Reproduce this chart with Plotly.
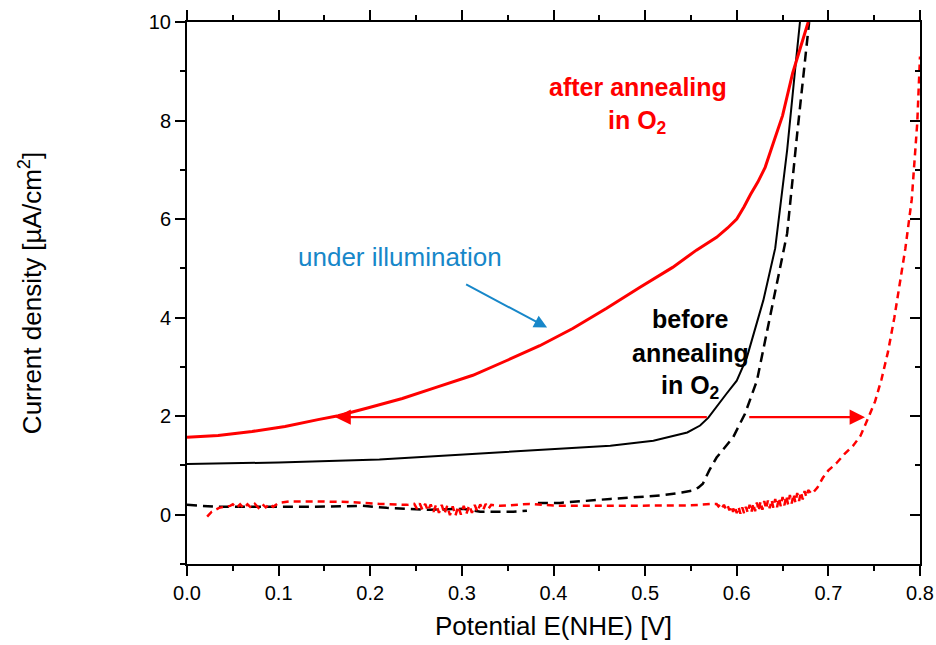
import plotly.graph_objects as go

# ---------------- data ----------------
# after annealing in O2, under illumination (red solid)
red_light_x = [0.000, 0.034, 0.071, 0.107, 0.143, 0.165, 0.198, 0.235, 0.271, 0.312, 0.349,
               0.385, 0.421, 0.458, 0.494, 0.530, 0.556, 0.578, 0.590, 0.600, 0.608, 0.615,
               0.623, 0.631, 0.640, 0.650, 0.661, 0.670, 0.677, 0.678]
red_light_y = [1.57, 1.61, 1.69, 1.79, 1.93, 2.01, 2.17, 2.36, 2.58, 2.83, 3.13,
               3.43, 3.78, 4.19, 4.61, 5.02, 5.37, 5.63, 5.82, 6.00, 6.25, 6.50,
               6.75, 7.05, 7.55, 8.10, 8.96, 9.50, 9.94, 10.0]

# after annealing in O2, dark (red dashed)
red_dark_x = [0.022, 0.027, 0.035, 0.047, 0.050, 0.054, 0.058, 0.062, 0.066, 0.070, 0.074,
              0.078, 0.082, 0.086, 0.090, 0.094, 0.100, 0.112, 0.140, 0.175, 0.210, 0.240,
              0.248, 0.251, 0.254, 0.257, 0.260, 0.263, 0.266, 0.269, 0.272, 0.275, 0.278,
              0.281, 0.284, 0.287, 0.290, 0.293, 0.296, 0.299, 0.302, 0.305, 0.308, 0.311,
              0.314, 0.317, 0.320, 0.323, 0.326, 0.329, 0.332,
              0.342, 0.374, 0.404, 0.450, 0.500, 0.550, 0.574,
              0.578, 0.580, 0.582, 0.584, 0.586, 0.588, 0.590, 0.592, 0.594, 0.596, 0.598,
              0.600, 0.602, 0.604, 0.606, 0.608, 0.610, 0.612, 0.614, 0.616, 0.618, 0.620,
              0.622, 0.624, 0.626, 0.628, 0.630, 0.632, 0.634, 0.636, 0.638, 0.640, 0.642,
              0.644, 0.646, 0.648, 0.650, 0.652, 0.654, 0.656, 0.658, 0.660, 0.662, 0.664,
              0.666, 0.668, 0.670, 0.672, 0.674, 0.676, 0.678,
              0.682, 0.688, 0.694, 0.700, 0.709, 0.718, 0.727, 0.735, 0.742, 0.751, 0.758,
              0.765, 0.772, 0.778, 0.784, 0.791, 0.797, 0.800]
red_dark_y = [-0.04, 0.06, 0.14, 0.18, 0.21, 0.14, 0.21, 0.13, 0.21, 0.14, 0.22,
              0.14, 0.22, 0.15, 0.22, 0.16, 0.24, 0.27, 0.27, 0.26, 0.22, 0.20,
              0.22, 0.12, 0.23, 0.10, 0.22, 0.08, 0.21, 0.06, 0.21, 0.04, 0.20,
              0.02, 0.18, -0.01, 0.17, -0.02, 0.17, 0.00, 0.18, 0.02, 0.19, 0.04,
              0.20, 0.06, 0.21, 0.09, 0.22, 0.12, 0.20,
              0.18, 0.22, 0.18, 0.18, 0.18, 0.19, 0.22,
              0.22, 0.17, 0.21, 0.14, 0.20, 0.12, 0.19, 0.09, 0.18, 0.06, 0.17,
              0.03, 0.16, 0.02, 0.15, 0.03, 0.16, 0.04, 0.20, 0.05, 0.23, 0.07,
              0.25, 0.08, 0.27, 0.10, 0.28, 0.12, 0.29, 0.13, 0.30, 0.14, 0.32,
              0.15, 0.34, 0.17, 0.36, 0.19, 0.38, 0.21, 0.40, 0.23, 0.42, 0.25,
              0.44, 0.28, 0.46, 0.31, 0.48, 0.36, 0.50, 0.42,
              0.55, 0.75, 0.90, 1.05, 1.24, 1.40, 1.60, 1.90, 2.30, 2.75, 3.30,
              4.00, 4.70, 5.40, 6.40, 7.95, 9.30, 10.0]

# before annealing, under illumination (black solid)
black_light_x = [0.000, 0.100, 0.210, 0.320, 0.407, 0.462, 0.509, 0.546, 0.560, 0.569,
                 0.589, 0.600, 0.611, 0.629, 0.642, 0.655, 0.664, 0.669]
black_light_y = [1.03, 1.06, 1.12, 1.24, 1.34, 1.40, 1.50, 1.67, 1.81, 1.97,
                 2.46, 2.72, 3.19, 4.35, 5.41, 7.40, 9.09, 10.0]

# before annealing, dark (black dashed)
black_dark_x = [0.000, 0.032, 0.083, 0.138, 0.192, 0.218, 0.265, 0.301, 0.320, 0.356, 0.371,
                None,
                0.383, 0.407, 0.462, 0.516, 0.540, 0.552, 0.558, 0.563, 0.570, 0.578, 0.596,
                0.609, 0.622, 0.635, 0.645, 0.655, 0.666, 0.677, 0.679]
black_dark_y = [0.20, 0.16, 0.16, 0.16, 0.18, 0.14, 0.10, 0.12, 0.06, 0.06, 0.08,
                None,
                0.24, 0.24, 0.32, 0.39, 0.45, 0.49, 0.55, 0.63, 0.90, 1.16, 1.57,
                2.05, 2.72, 3.90, 4.80, 5.71, 7.74, 9.70, 10.0]

x_ticks = [0.0, 0.1, 0.2, 0.3, 0.4, 0.5, 0.6, 0.7, 0.8]
y_ticks = [0, 2, 4, 6, 8, 10]

RED = "#ff0000"
BLUE = "#1787c9"
FONT = "Liberation Sans, Arial, sans-serif"

fig = go.Figure()
fig.add_trace(go.Scatter(x=black_dark_x, y=black_dark_y, mode="lines",
                         line=dict(color="black", width=2.5, dash="10px,6px"),
                         connectgaps=False, showlegend=False))
fig.add_trace(go.Scatter(x=red_dark_x, y=red_dark_y, mode="lines",
                         line=dict(color=RED, width=2.5, dash="7px,5px"),
                         showlegend=False))
fig.add_trace(go.Scatter(x=black_light_x, y=black_light_y, mode="lines",
                         line=dict(color="black", width=2),
                         showlegend=False))
fig.add_trace(go.Scatter(x=red_light_x, y=red_light_y, mode="lines",
                         line=dict(color=RED, width=3),
                         showlegend=False))
# carrier for right axis (inside ticks)
fig.add_trace(go.Scatter(x=[0.0], y=[-5], yaxis="y2", mode="lines",
                         line=dict(width=0), showlegend=False, hoverinfo="skip"))

axis_common = dict(showline=True, linecolor="black", linewidth=2, showgrid=False,
                   zeroline=False, tickcolor="black", tickwidth=2, automargin=False,
                   tickfont=dict(family=FONT, size=20, color="black"))

fig.update_layout(
    width=936, height=645,
    margin=dict(l=187, r=16, t=22, b=81),
    paper_bgcolor="white", plot_bgcolor="white",
    font=dict(family=FONT, color="black"),
    xaxis=dict(range=[0, 0.8], tickvals=x_ticks, tickformat=".1f",
               ticks="outside", ticklen=10, mirror="ticks",
               minor=dict(dtick=0.05, tick0=0, ticks="outside", ticklen=5,
                          tickwidth=2, tickcolor="black"),
               title=dict(text="Potential E(NHE) [V]", font=dict(family=FONT, size=26),
                          standoff=14),
               **axis_common),
    yaxis=dict(range=[-1, 10], tickvals=y_ticks, ticks="outside", ticklen=10,
               mirror=False,
               minor=dict(dtick=1, tick0=0, ticks="outside", ticklen=5,
                          tickwidth=2, tickcolor="black"),
               title=dict(text="Current density [\u00b5A/cm<sup>2</sup>]",
                          font=dict(family=FONT, size=26), standoff=100),
               **axis_common),
    yaxis2=dict(range=[-1, 10], overlaying="y", side="right", anchor="x",
                tickvals=y_ticks, ticks="inside", ticklen=10, showticklabels=False,
                minor=dict(dtick=1, tick0=0, ticks="inside", ticklen=5,
                           tickwidth=2, tickcolor="black"),
                showline=True, linecolor="black", linewidth=2, showgrid=False,
                zeroline=False, tickcolor="black", tickwidth=2, automargin=False),
)

ann = []
# arrows
ann.append(dict(x=0.162, y=1.98, ax=0.569, ay=1.98, xref="x", yref="y", axref="x", ayref="y",
                showarrow=True, arrowhead=2, arrowsize=1.4, arrowwidth=2.2,
                arrowcolor=RED, text=""))
ann.append(dict(x=0.740, y=1.98, ax=0.612, ay=1.98, xref="x", yref="y", axref="x", ayref="y",
                showarrow=True, arrowhead=2, arrowsize=1.4, arrowwidth=2.2,
                arrowcolor=RED, text=""))
ann.append(dict(x=0.393, y=3.80, ax=0.303, ay=4.69, xref="x", yref="y", axref="x", ayref="y",
                showarrow=True, arrowhead=2, arrowsize=1.3, arrowwidth=2,
                arrowcolor=BLUE, text=""))
# texts
ann.append(dict(x=0.2325, y=5.24, xref="x", yref="y", showarrow=False,
                text="under illumination", font=dict(family=FONT, size=26, color=BLUE)))
ann.append(dict(x=0.492, y=8.68, xref="x", yref="y", showarrow=False,
                text="<b>after annealing</b>", font=dict(family=FONT, size=25, color=RED)))
ann.append(dict(x=0.492, y=7.97, xref="x", yref="y", showarrow=False,
                text="<b>in O<sub>2</sub></b>", font=dict(family=FONT, size=25, color=RED)))
ann.append(dict(x=0.549, y=3.98, xref="x", yref="y", showarrow=False,
                text="<b>before</b>", font=dict(family=FONT, size=25, color="black")))
ann.append(dict(x=0.549, y=3.29, xref="x", yref="y", showarrow=False,
                text="<b>annealing</b>", font=dict(family=FONT, size=25, color="black")))
ann.append(dict(x=0.549, y=2.60, xref="x", yref="y", showarrow=False,
                text="<b>in O<sub>2</sub></b>", font=dict(family=FONT, size=25, color="black")))
fig.update_layout(annotations=ann)

fig.write_html("out.html")
